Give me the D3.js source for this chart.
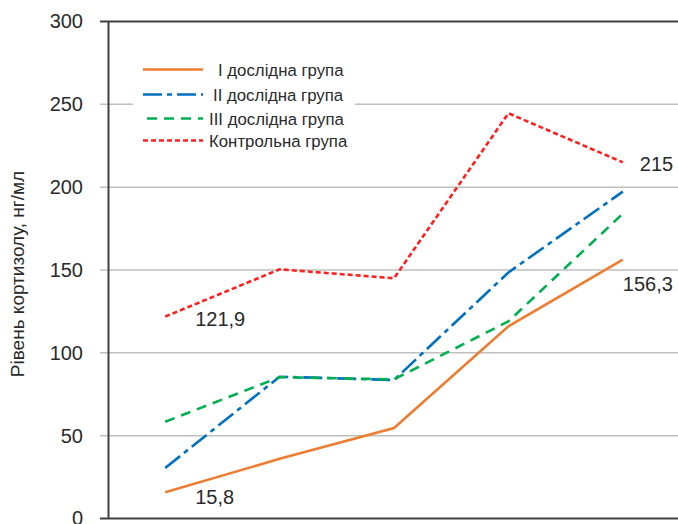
<!DOCTYPE html>
<html>
<head>
<meta charset="utf-8">
<script src="https://cdn.jsdelivr.net/npm/d3@7"></script>
<style>
  html, body { margin: 0; padding: 0; background: #fff; }
  svg { display: block; font-family: "Liberation Sans", Arial, sans-serif; }
</style>
</head>
<body>
<svg id="chart" width="678" height="524"></svg>
<script>
// ---- data ----
const categories = ["1", "2", "3", "4", "5"];
const seriesNames = ["І дослідна група", "ІІ дослідна група", "ІІІ дослідна група", "Контрольна група"];
const group1 = [15.8, 36, 54.6, 116, 156.3];
const group2 = [30.5, 85.6, 83.6, 148.5, 197.3];
const group3 = [58.4, 85.3, 84, 119, 184];
const control = [121.9, 150.4, 145, 244.6, 215];
const yTicks = [0, 50, 100, 150, 200, 250, 300];
const yTitle = "Рівень кортизолу, нг/мл";
const annotations = [
  { series: 0, index: 0, text: "15,8" },
  { series: 3, index: 0, text: "121,9" },
  { series: 0, index: 4, text: "156,3" },
  { series: 3, index: 4, text: "215" }
];

// ---- styles ----
const colors = ["#ED7D31", "#0070C0", "#00B050", "#FF1F1F"];
const dashes = [null, "19,5,5,5", "10,7", "5,3"];
const annOffsets = [[30, 12], [30, 9], [0, 31], [17, 9]];

const svg = d3.select("#chart");
const x = d3.scaleBand().domain(categories).range([108, 680]);
const y = d3.scaleLinear().domain([0, 300]).range([518.5, 21.5]);
const cx = c => x(c) + x.bandwidth() / 2;

// gridlines
svg.append("g").selectAll("line").data(yTicks.filter(t => t > 0 && t < 300)).join("line")
  .attr("x1", 100).attr("x2", 678)
  .attr("y1", d => y(d)).attr("y2", d => y(d))
  .attr("stroke", "#BFBFBF").attr("stroke-width", 1.5);

// top & bottom border lines
svg.append("g").selectAll("line").data([0, 300]).join("line")
  .attr("x1", 100).attr("x2", 678)
  .attr("y1", d => y(d)).attr("y2", d => y(d))
  .attr("stroke", "#404040").attr("stroke-width", 2);

// y axis
const yAxis = d3.axisLeft(y).tickValues(yTicks).tickSize(0).tickPadding(25);
const gy = svg.append("g").attr("transform", "translate(108,0)").call(yAxis);
gy.select(".domain").attr("stroke", "#404040").attr("stroke-width", 2);
gy.selectAll("text").attr("font-size", 20).attr("fill", "#2a2a2a")
  .attr("font-family", "Liberation Sans, Arial, sans-serif");

// y title
svg.append("text")
  .attr("transform", "translate(24,274) rotate(-90)")
  .attr("text-anchor", "middle")
  .attr("font-size", 19).attr("fill", "#2a2a2a")
  .text(yTitle);

// lines
const allSeries = [group1, group2, group3, control];
const line = d3.line().x((d, i) => cx(categories[i])).y(d => y(d));
svg.append("g").selectAll("path").data(allSeries).join("path")
  .attr("d", d => line(d))
  .attr("fill", "none")
  .attr("stroke", (d, i) => colors[i])
  .attr("stroke-width", 2.6)
  .attr("stroke-dasharray", (d, i) => dashes[i]);

// annotations
svg.append("g").selectAll("text").data(annotations).join("text")
  .attr("x", (d, i) => cx(categories[d.index]) + annOffsets[i][0])
  .attr("y", (d, i) => y(allSeries[d.series][d.index]) + annOffsets[i][1])
  .attr("font-size", 20).attr("fill", "#2a2a2a")
  .text(d => d.text);

// legend
const leg = svg.append("g");
leg.append("rect").attr("x", 133).attr("y", 58).attr("width", 222).attr("height", 94).attr("fill", "#fff");
const legLineY = [69.5, 94.5, 118.5, 140.5];
const legTextX = [218, 213, 209, 209];
const legLineX1 = [143, 143, 147, 143];
seriesNames.forEach((name, i) => {
  leg.append("line")
    .attr("x1", legLineX1[i]).attr("x2", 203)
    .attr("y1", legLineY[i]).attr("y2", legLineY[i])
    .attr("stroke", colors[i]).attr("stroke-width", 2.6)
    .attr("stroke-dasharray", dashes[i]);
  leg.append("text")
    .attr("x", legTextX[i]).attr("y", legLineY[i] + 6)
    .attr("font-size", 16.8).attr("fill", "#2a2a2a")
    .text(name);
});
</script>
</body>
</html>
